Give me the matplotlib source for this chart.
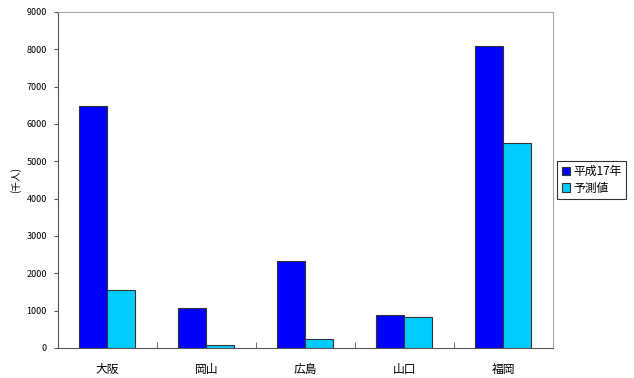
import numpy as np
import matplotlib.pyplot as plt

plt.rcParams['font.family'] = ['Noto Sans CJK JP', 'DejaVu Sans']

prefectures = ['大阪', '岡山', '広島', '山口', '福岡']
h17 = [6490, 1080, 2330, 880, 8100]
forecast = [1550, 85, 240, 820, 5480]
series_names = ['平成17年', '予測値']

fig = plt.figure(figsize=(6.34, 3.78), dpi=100)
ax = fig.add_axes([0.0915, 0.0794, 0.780, 0.889])

x = np.arange(len(prefectures))
w = 0.283
ax.bar(x - w / 2, h17, w, color='#0000ff', edgecolor='#333333', linewidth=0.8, label=series_names[0])
ax.bar(x + w / 2, forecast, w, color='#00ccff', edgecolor='#333333', linewidth=0.8, label=series_names[1])

ax.set_xlim(-0.5, len(prefectures) - 0.5)
ax.set_ylim(0, 9000)
ax.set_yticks(np.arange(0, 9001, 1000))
ax.set_xticks(x)
ax.set_xticklabels(prefectures, fontsize=8.5)
ax.set_xticks(np.arange(0.5, len(prefectures) - 1, 1), minor=True)
ax.tick_params(axis='x', which='major', length=0, pad=11)
ax.tick_params(axis='x', which='minor', direction='in', length=4, color='#555555')
ax.tick_params(axis='y', labelsize=6.5, length=3, color='#555555', pad=5)
ax.set_ylabel('(千人)', fontsize=7, labelpad=4)

for side in ['left', 'bottom']:
    ax.spines[side].set_color('#555555')
for side in ['top', 'right']:
    ax.spines[side].set_color('#aaaaaa')

leg = ax.legend(loc='center left', bbox_to_anchor=(1.01, 0.5), fontsize=8.5,
                frameon=True, fancybox=False, edgecolor='#000000',
                handlelength=0.7, handleheight=0.7, handletextpad=0.3,
                borderpad=0.35, labelspacing=0.3, borderaxespad=0)
leg.get_frame().set_linewidth(0.8)

fig.savefig('out.png', dpi=100)
